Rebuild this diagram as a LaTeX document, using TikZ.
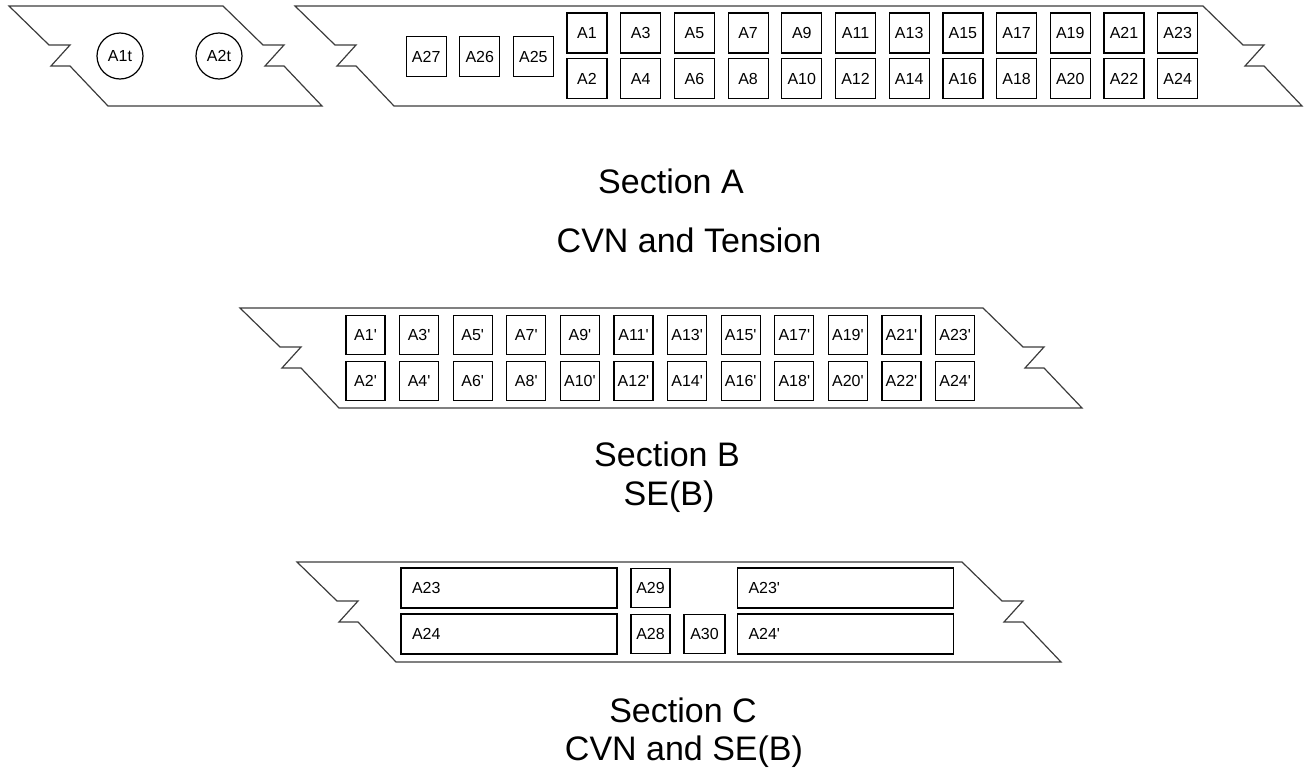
\documentclass[tikz,border=0pt]{standalone}
\usepackage{fontspec}
\setmainfont{Liberation Sans}
\usepackage{tikz}
\usetikzlibrary{positioning}
\definecolor{edgeColor}{HTML}{3C3C3C}

% outline of one cut piece: left top x, right top x, top y
\newcommand{\coupon}[3]{%
  \draw[edgeColor, line width=0.6pt] (#1,#3) -- ++(40,39) -- ++(21,0) -- ++(-19,21) -- ++(19,0) -- ++(38,40)
    -- (#2+99,#3+100) -- ++(-38,-40) -- ++(-19,0) -- ++(19,-21) -- ++(-21,0) -- (#2,#3) -- cycle;}
\newcommand{\pr}{\textquotesingle}

\tikzset{
  spec/.style={draw, line width=0.6pt, minimum width=20pt, minimum height=20pt, inner sep=1pt, font=\fontsize{8}{9}\selectfont},
  specB/.style={spec, minimum width=19.5pt, minimum height=19.5pt},
  wide/.style={draw, line width=0.6pt, minimum height=20pt, text width=97pt, inner xsep=5.5pt, align=left, font=\fontsize{8}{9}\selectfont},
  tens/.style={draw, circle, line width=0.6pt, minimum size=23pt, inner sep=0pt, font=\fontsize{8}{9}\selectfont},
  caption/.style={anchor=base, font=\fontsize{17}{20}\selectfont}
}

\begin{document}
\begin{tikzpicture}[x=0.5pt, y=-0.5pt]
  \useasboundingbox (0,0) rectangle (1307,771);

  % Section A
  \coupon{9}{223}{6}
  \coupon{295}{1203}{6}
  \node[tens] (a1t) at (120,56) {A1t};
  \node[tens] (a2t) at (219,56) {A2t};
  \node[spec] (a27) at (426.2,56.5) {A27};
  \node[spec] (a26) at (479.8,56.5) {A26};
  \node[spec] (a25) at (533.4,56.5) {A25};
  \foreach \i [evaluate=\i as \odd using int(2*\i-1), evaluate=\i as \even using int(2*\i)] in {1,...,12} {
    \node[spec] (a\odd) at (587+53.7*\i-53.7,33) {A\odd};
    \node[spec] (a\even) at (587+53.7*\i-53.7,78.5) {A\even};
  }
  \node[caption] (capA) at (671,193) {Section A};
  \node[caption] (subA) at (689,252) {CVN and Tension};

  % Section B
  \coupon{240}{983}{308}
  \foreach \i [evaluate=\i as \odd using int(2*\i-1), evaluate=\i as \even using int(2*\i)] in {1,...,12} {
    \node[specB] (b\odd) at (365.5+53.6*\i-53.6,335) {A\odd\pr};
    \node[specB] (b\even) at (365.5+53.6*\i-53.6,381) {A\even\pr};
  }
  \node[caption] (capB) at (667,466) {Section B};
  \node[caption] (subB) at (669,505) {SE(B)};

  % Section C
  \coupon{297}{962}{562}
  \node[wide] (c23) at (509,588) {A23};
  \node[wide] (c24) at (509,634) {A24};
  \node[specB] (c29) at (650.5,588) {A29};
  \node[specB] (c28) at (650.5,634) {A28};
  \node[specB, minimum width=20.5pt] (c30) at (704.5,634) {A30};
  \node[wide] (c23p) at (845.5,588) {A23\pr};
  \node[wide] (c24p) at (845.5,634) {A24\pr};
  \node[caption] (capC) at (683,722) {Section C};
  \node[caption] (subC) at (684,760) {CVN and SE(B)};
\end{tikzpicture}
\end{document}
